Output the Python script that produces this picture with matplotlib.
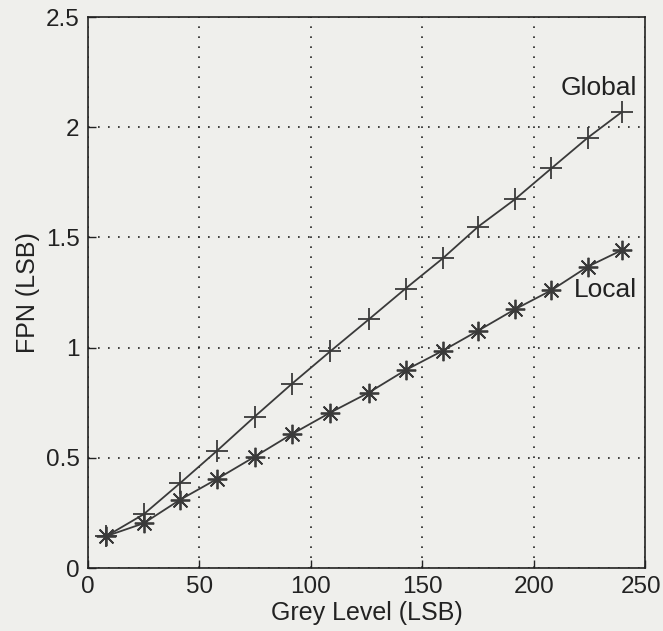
import numpy as np
import matplotlib
matplotlib.use('Agg')
import matplotlib.pyplot as plt
import matplotlib.transforms as mtransforms
from matplotlib.ticker import FuncFormatter

# ------------------------- 数据 -------------------------
grey = [8.3, 25, 41.2, 57.9, 74.8, 91.4, 108.7, 126, 142.5, 159.2, 175.1, 191.6, 207.9, 224.2, 239.7]
fpn_global = [0.145, 0.244, 0.384, 0.532, 0.687, 0.835, 0.983, 1.128, 1.268,
              1.405, 1.549, 1.673, 1.813, 1.952, 2.070]
fpn_local = [0.145, 0.203, 0.309, 0.404, 0.505, 0.607, 0.705, 0.796, 0.898,
             0.986, 1.077, 1.174, 1.260, 1.367, 1.443]

x_ticks = [0, 50, 100, 150, 200, 250]
y_ticks = [0, 0.5, 1, 1.5, 2, 2.5]

plt.rcParams['font.family'] = ['Liberation Sans', 'DejaVu Sans']
bg = '#efefec'
ink = '#3a3a3a'

fig = plt.figure(figsize=(6.63, 6.31), dpi=100, facecolor=bg)
ax = fig.add_axes([0.1327, 0.0998, 0.8403, 0.8732], facecolor=bg)

ax.plot(grey, fpn_global, color=ink, lw=1.3, marker='+', ms=16, mew=1.3)
ax.plot(grey, fpn_local, color=ink, lw=1.3, marker=(8, 2, 0), ms=14, mew=1.3)

ax.text(246.5, 2.18, 'Global', ha='right', va='center', fontsize=19, color='#222222')
ax.text(246.5, 1.26, 'Local', ha='right', va='center', fontsize=19, color='#222222')

ax.set_xlim(0, 250)
ax.set_ylim(0, 2.5)
ax.set_xticks(x_ticks)
ax.set_yticks(y_ticks)
ax.yaxis.set_major_formatter(FuncFormatter(lambda v, p: '%g' % v))
ax.tick_params(direction='in', length=6, width=1, labelsize=17.5, colors='#222222', pad=6)
ax.grid(True, color='#222222', linestyle=(0, (1, 5)), lw=1.2)
for s in ax.spines.values():
    s.set_color('#222222')
    s.set_linewidth(1.2)

# 最后一个刻度标签稍微左移，避免被裁掉
last = ax.get_xticklabels()[-1]
last.set_transform(last.get_transform() + mtransforms.ScaledTranslation(-4 / 100, 0, fig.dpi_scale_trans))

ax.set_xlabel('Grey Level (LSB)', fontsize=18, color='#222222', labelpad=2)
ax.set_ylabel('FPN (LSB)', fontsize=18, color='#222222', labelpad=4)

fig.savefig('out.png', dpi=100, facecolor=bg)
